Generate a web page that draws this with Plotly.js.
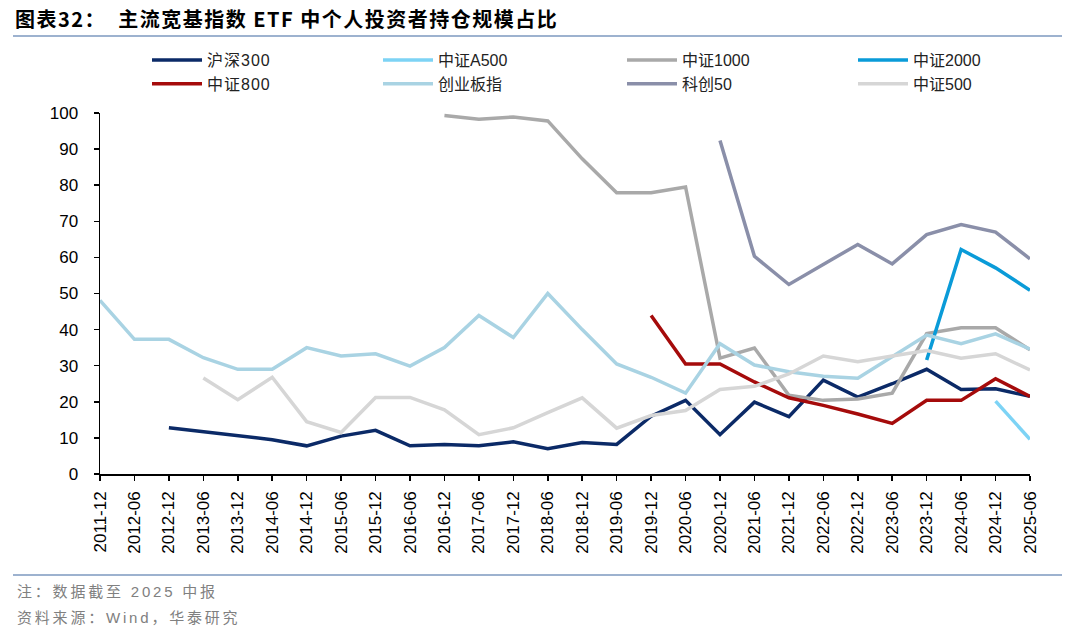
<!DOCTYPE html>
<html>
<head>
<meta charset="utf-8">
<script src="https://cdn.plot.ly/plotly-3.0.1.min.js"></script>
<style>
html,body{margin:0;padding:0;background:#fff;}
#chart{width:1080px;height:634px;}
</style>
</head>
<body>
<div id="chart"></div>
<script>
const categories = ["2011-12","2012-06","2012-12","2013-06","2013-12","2014-06","2014-12","2015-06","2015-12","2016-06","2016-12","2017-06","2017-12","2018-06","2018-12","2019-06","2019-12","2020-06","2020-12","2021-06","2021-12","2022-06","2022-12","2023-06","2023-12","2024-06","2024-12","2025-06"];

const hs300   = [null,null,12.8,11.7,10.6,9.5,7.8,10.5,12.1,7.8,8.2,7.8,8.9,7.0,8.7,8.2,16.0,20.4,10.9,19.9,15.9,26.0,21.3,25.0,29.0,23.4,23.6,21.5];
const zzA500  = [null,null,null,null,null,null,null,null,null,null,null,null,null,null,null,null,null,null,null,null,null,null,null,null,null,null,20.2,9.6];
const zz1000  = [null,null,null,null,null,null,null,null,null,null,99.3,98.3,98.9,97.8,87.3,77.9,77.9,79.5,32.1,34.9,21.8,20.4,20.8,22.4,38.9,40.5,40.5,34.4];
const zz2000  = [null,null,null,null,null,null,null,null,null,null,null,null,null,null,null,null,null,null,null,null,null,null,null,null,31.6,62.2,57.1,50.9];
const zz800   = [null,null,null,null,null,null,null,null,null,null,null,null,null,null,null,null,43.9,30.5,30.5,25.5,21.1,19.0,16.6,14.0,20.4,20.4,26.4,21.5];
const cyb     = [48.1,37.3,37.3,32.2,29.0,29.0,35.0,32.7,33.3,29.9,35.0,43.9,37.8,50.0,40.0,30.5,26.8,22.4,36.1,30.2,28.3,27.1,26.5,32.5,38.5,36.1,38.8,34.6];
const kc50    = [null,null,null,null,null,null,null,null,null,null,null,null,null,null,null,null,null,null,92.4,60.3,52.5,58.0,63.6,58.2,66.3,69.1,67.0,59.6];
const zz500   = [null,null,null,26.6,20.6,26.8,14.5,11.5,21.2,21.2,17.8,10.9,12.8,17.0,21.1,12.7,16.2,17.6,23.4,24.3,27.7,32.7,31.1,32.7,34.2,32.1,33.3,28.8];

const seriesNames  = ["沪深300","中证A500","中证1000","中证2000","中证800","创业板指","科创50","中证500"];
const seriesValues = [hs300, zzA500, zz1000, zz2000, zz800, cyb, kc50, zz500];
const seriesColors = ["#0B2A67","#7DD3F5","#A9A9A9","#0A9BD8","#A50B0B","#A9D3E3","#8A8FA9","#D6D6D6"];
// legend column of each series (two rows x four columns, like the reference)
const legendIds = ["legend","legend2","legend3","legend4","legend","legend2","legend3","legend4"];

const traces = seriesNames.map((n, i) => ({
  type: "scatter",
  mode: "lines",
  name: n,
  x: categories,
  y: seriesValues[i],
  connectgaps: false,
  legend: legendIds[i],
  line: {color: seriesColors[i], width: 3.5},
  hoverinfo: "x+y+name"
}));

const W = 1080, H = 634;
const L = 100, R = 50, T = 113, B = 160;
const pw = W - L - R, ph = H - T - B;
const px = v => (v - L) / pw;
const py = v => (H - B - v) / ph;

const baseFont = "Liberation Sans, Arial, Noto Sans CJK SC, sans-serif";

function legendAt(xPix) {
  return {
    orientation: "v",
    x: px(xPix), xanchor: "left",
    y: py(43), yanchor: "top",
    font: {family: baseFont, size: 16, color: "#222222"},
    bgcolor: "rgba(0,0,0,0)",
    traceorder: "normal",
    itemwidth: 50,
    tracegroupgap: 0
  };
}

const layout = {
  width: W, height: H,
  margin: {l: L, r: R, t: T, b: B, pad: 0},
  paper_bgcolor: "#ffffff",
  plot_bgcolor: "#ffffff",
  font: {family: baseFont, size: 16, color: "#000000"},
  title: {
    text: "<b>图表32：  主流宽基指数 ETF 中个人投资者持仓规模占比</b>",
    font: {family: "Noto Sans CJK SC, sans-serif", size: 20, color: "#000000"},
    xref: "container", yref: "container",
    x: 15 / W, xanchor: "left",
    y: 1 - 20 / H, yanchor: "middle"
  },
  showlegend: true,
  legend: legendAt(147),
  legend2: legendAt(378),
  legend3: legendAt(622),
  legend4: legendAt(853),
  xaxis: {
    type: "category",
    range: [0, categories.length - 1],
    tickmode: "array",
    tickvals: categories,
    ticktext: categories,
    tickangle: -90,
    ticks: "outside", ticklen: 5, tickwidth: 1.5, tickcolor: "#000",
    showline: true, linecolor: "#000", linewidth: 1.5,
    showgrid: false, zeroline: false,
    tickfont: {family: baseFont, size: 17, color: "#000"},
    ticklabelstandoff: 4,
    fixedrange: true
  },
  yaxis: {
    range: [0, 100],
    tickmode: "linear", tick0: 0, dtick: 10,
    ticks: "outside", ticklen: 5, tickwidth: 1.5, tickcolor: "#000",
    showline: true, linecolor: "#000", linewidth: 1.5,
    showgrid: false, zeroline: false,
    tickfont: {family: baseFont, size: 17, color: "#000"},
    ticklabelstandoff: 12,
    fixedrange: true
  },
  shapes: [
    {type: "line", xref: "paper", yref: "paper", x0: px(13), x1: px(1062), y0: py(36), y1: py(36), line: {color: "#9DB2CF", width: 2}},
    {type: "line", xref: "paper", yref: "paper", x0: px(13), x1: px(1062), y0: py(575), y1: py(575), line: {color: "#9DB2CF", width: 2}}
  ],
  annotations: [
    {xref: "paper", yref: "paper", x: px(15), y: py(591), xanchor: "left", yanchor: "middle", showarrow: false,
     text: "注：数据截至 2025 中报", font: {family: baseFont, size: 15, color: "#808080"}},
    {xref: "paper", yref: "paper", x: px(15), y: py(617), xanchor: "left", yanchor: "middle", showarrow: false,
     text: "资料来源：Wind，华泰研究", font: {family: baseFont, size: 15, color: "#808080"}}
  ]
};

Plotly.newPlot("chart", traces, layout, {displayModeBar: false, staticPlot: true}).then(gd => {
  gd.querySelectorAll(".annotation-text").forEach(t => {
    let b0 = null;
    try { b0 = t.getBBox(); } catch (e) {}
    t.style.letterSpacing = "2.8px";
    if (b0) {
      try {
        const b1 = t.getBBox();
        const dx = b0.x - b1.x;
        t.setAttribute("transform", "translate(" + dx + ",0)");
      } catch (e) {}
    }
  });
  gd.querySelectorAll(".gtitle").forEach(t => { t.style.letterSpacing = "1.5px"; });
  gd.querySelectorAll(".legendtext").forEach(t => { t.style.letterSpacing = "1px"; });
});
</script>
</body>
</html>
